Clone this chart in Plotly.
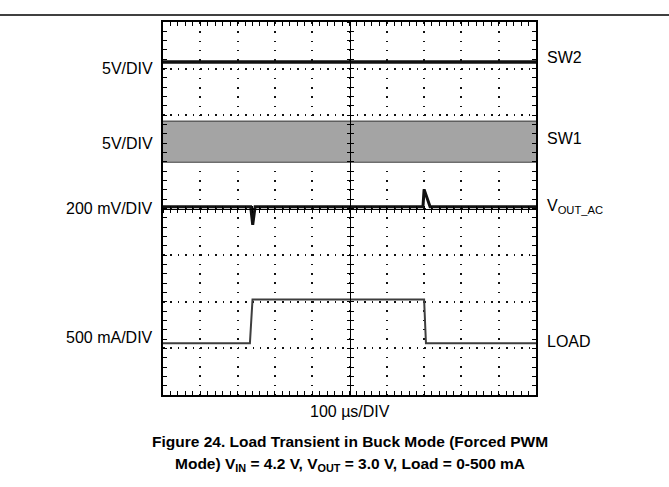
import plotly.graph_objects as go

# ---- data (time in µs, amplitude in screen divisions) ----
sw2_t = [0, 1000]
sw2_v = [7.14, 7.14]

sw1_t = [0, 1000]
sw1_hi = [5.87, 5.87]
sw1_lo = [4.99, 4.99]

vout_t = [0, 235, 240.5, 247, 697, 700, 716, 1000]
vout_v = [4.04, 4.04, 3.65, 4.04, 4.04, 4.41, 4.04, 4.04]

load_t = [0, 233, 240, 700, 705, 1000]
load_v = [1.11, 1.11, 2.05, 2.05, 1.11, 1.11]

left_labels = ["5V/DIV", "5V/DIV", "200 mV/DIV", "500 mA/DIV"]
left_y = [7.01, 5.40, 4.01, 1.24]
right_labels = ["SW2", "SW1", "V<sub>OUT_AC</sub>", "LOAD"]
right_y = [7.23, 5.51, 4.05, 1.14]

FONT = "Liberation Sans, Arial, sans-serif"

fig = go.Figure()

# SW1 band (on the centre-line overlay axes)
fig.add_trace(go.Scatter(x=sw1_t, y=sw1_lo, mode="lines", xaxis="x2", yaxis="y2",
                         line=dict(color="#6e6e6e", width=1.5), showlegend=False, hoverinfo="skip"))
fig.add_trace(go.Scatter(x=sw1_t, y=sw1_hi, mode="lines", fill="tonexty", xaxis="x2", yaxis="y2",
                         fillcolor="#a4a4a4",
                         line=dict(color="#5e5e5e", width=1.5), showlegend=False, hoverinfo="skip"))
# SW2
fig.add_trace(go.Scatter(x=sw2_t, y=sw2_v, mode="lines", xaxis="x3", yaxis="y3",
                         line=dict(color="#111111", width=3.5), showlegend=False, hoverinfo="skip"))
# VOUT_AC
fig.add_trace(go.Scatter(x=vout_t, y=vout_v, mode="lines", xaxis="x3", yaxis="y3",
                         line=dict(color="#111111", width=3), showlegend=False, hoverinfo="skip"))
# LOAD
fig.add_trace(go.Scatter(x=load_t, y=load_v, mode="lines", xaxis="x3", yaxis="y3",
                         line=dict(color="#3e3e3e", width=2), showlegend=False, hoverinfo="skip"))

common_ax = dict(showticklabels=False, zeroline=False, fixedrange=True)

fig.update_layout(
    width=669, height=487, autosize=False,
    margin=dict(l=163, r=133, t=22, b=92, pad=0),
    paper_bgcolor="white", plot_bgcolor="white",
    xaxis=dict(range=[0, 1000], dtick=100, showgrid=True, gridcolor="#111111", gridwidth=1.5,
               griddash="1.5px,7.8px", showline=True, linewidth=2, linecolor="black",
               mirror="allticks", ticks="inside", ticklen=4, tickcolor="black", tickwidth=1,
               minor=dict(dtick=20, ticks="inside", ticklen=4, tickcolor="black", tickwidth=1,
                          showgrid=False),
               **common_ax),
    yaxis=dict(range=[0, 8], dtick=1, showgrid=True, gridcolor="#111111", gridwidth=1.5,
               griddash="1.5px,5.96px", showline=True, linewidth=2, linecolor="black",
               mirror="allticks", ticks="inside", ticklen=4, tickcolor="black", tickwidth=1,
               minor=dict(dtick=0.2, ticks="inside", ticklen=4, tickcolor="black", tickwidth=1,
                          showgrid=False),
               **common_ax),
    xaxis2=dict(overlaying="x", anchor="free", position=0.5, range=[0, 1000], dtick=100,
                showgrid=False, showline=True, linewidth=1, linecolor="black",
                ticks="inside", ticklen=3, tickcolor="black",
                minor=dict(dtick=20, ticks="inside", ticklen=3, tickcolor="black"), **common_ax),
    xaxis3=dict(overlaying="x", anchor="free", position=0.5, range=[0, 1000], dtick=100,
                showgrid=False, showline=False,
                ticks="outside", ticklen=3, tickcolor="black",
                minor=dict(dtick=20, ticks="outside", ticklen=3, tickcolor="black"), **common_ax),
    yaxis2=dict(overlaying="y", anchor="free", position=0.5, range=[0, 8], dtick=1,
                showgrid=False, showline=True, linewidth=1, linecolor="black",
                ticks="inside", ticklen=3, tickcolor="black",
                minor=dict(dtick=0.2, ticks="inside", ticklen=3, tickcolor="black"), **common_ax),
    yaxis3=dict(overlaying="y", anchor="free", position=0.5, range=[0, 8], dtick=1,
                showgrid=False, showline=False,
                ticks="outside", ticklen=3, tickcolor="black",
                minor=dict(dtick=0.2, ticks="outside", ticklen=3, tickcolor="black"), **common_ax),
    font=dict(family=FONT, color="black", size=16),
)

annotations = []
for t, y in zip(left_labels, left_y):
    annotations.append(dict(text=t, xref="paper", yref="y", x=-0.021, y=y, xanchor="right",
                            yanchor="middle", showarrow=False, font=dict(size=16)))
for t, y in zip(right_labels, right_y):
    annotations.append(dict(text=t, xref="paper", yref="y", x=1.024, y=y, xanchor="left",
                            yanchor="middle", showarrow=False, font=dict(size=16)))
annotations.append(dict(text="100 \u00b5s/DIV", xref="paper", yref="paper", x=0.5, y=-0.043,
                        xanchor="center", yanchor="middle", showarrow=False, font=dict(size=16)))
annotations.append(dict(text="<b>Figure 24. Load Transient in Buck Mode (Forced PWM</b>",
                        xref="paper", yref="paper", x=0.5, y=(395 - 441) / 373,
                        xanchor="center", yanchor="middle", showarrow=False, font=dict(size=15.5)))
annotations.append(dict(text="<b>Mode) V<sub>IN</sub> = 4.2 V, V<sub>OUT</sub> = 3.0 V, Load = 0-500 mA</b>",
                        xref="paper", yref="paper", x=0.5, y=(395 - 465) / 373,
                        xanchor="center", yanchor="middle", showarrow=False, font=dict(size=15.5)))
fig.update_layout(annotations=annotations)

fig.add_shape(type="line", xref="paper", yref="paper", x0=-163 / 373, x1=(669 - 163) / 373,
              y0=(395 - 15) / 373, y1=(395 - 15) / 373, line=dict(color="black", width=1.5))

fig.write_html("out.html", config={"displayModeBar": False},
               post_script="document.body.style.margin='0px';")
